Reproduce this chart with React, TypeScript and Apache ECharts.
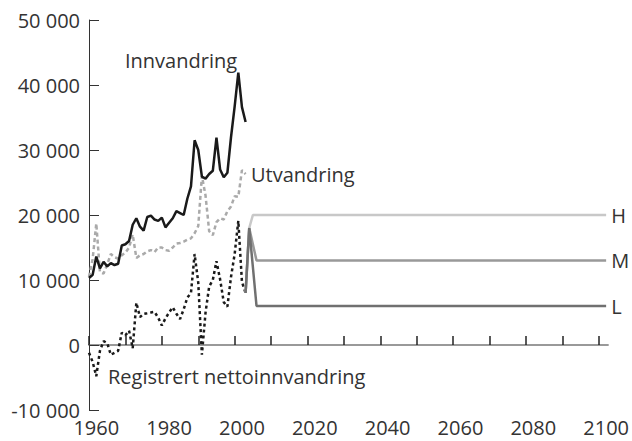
import React, { useEffect, useRef } from "react";
import * as echarts from "echarts";

const years: number[] = [];
for (let y = 1958; y <= 2001; y++) years.push(y);

const innvandring = [
  10300, 10800, 13600, 11800, 12800, 12100, 12600, 12300, 12500, 15300,
  15500, 16000, 18500, 19500, 18200, 17600, 19700, 19900, 19300, 19100,
  19600, 18100, 18800, 19500, 20600, 20300, 20000, 22500, 24400, 31500,
  30000, 25900, 25600, 26300, 26800, 31900, 27000, 25800, 26500, 32000,
  36700, 41900, 36600, 34300,
];
const utvandring = [
  10500, 13200, 18700, 11200, 11000, 12400, 14000, 13500, 13300, 13800,
  14200, 15000, 17000, 13400, 13800, 14000, 14400, 14600, 14300, 15000,
  15000, 14600, 14500, 15000, 15600, 15700, 15900, 16200, 16400, 17200,
  18300, 26000, 23000, 17500, 16900, 18900, 19500, 19300, 20600, 21300,
  22900, 22800, 26900, 26300,
];
const netto = [
  -1200, -2600, -4800, -900, 600, 300, -1500, -1200, -900, 1900,
  1500, 2200, -500, 6500, 4300, 4800, 4900, 5000, 5100, 4200,
  3000, 4100, 5000, 5800, 4800, 4000, 5500, 7300, 8000, 14000,
  9600, -1500, 5000, 9000, 10000, 12900, 10100, 6600, 5900, 10500,
  14000, 19100, 9700, 8000,
];

const projYears = [2001, 2002, 2003, 2004, 2100];
const projH = [8000, 18000, 20000, 20000, 20000];
const projM = [8000, 18000, 15500, 13000, 13000];
const projL = [8000, 18000, 12000, 6000, 6000];

const tickYears = [1958, 1968, 1978, 1988, 1998, 2008, 2018, 2028, 2038, 2048, 2058, 2068, 2078, 2088, 2098];
const labelYears = [1960, 1980, 2000, 2020, 2040, 2060, 2080, 2100];

const FONT = "'Open Sans', 'Noto Sans', sans-serif";
const TXT = "#333";

const pair = (xs: number[], ys: number[]) => xs.map((x, i) => [x, ys[i]]);
const fmt = (v: number) =>
  (v < 0 ? "-" : "") + String(Math.abs(v)).replace(/\B(?=(\d{3})+(?!\d))/g, " ");

export default function App() {
  const ref = useRef<HTMLDivElement>(null);
  useEffect(() => {
    if (!ref.current) return;
    const chart = echarts.init(ref.current, undefined, { renderer: "svg" });
    chart.setOption({
      animation: false,
      textStyle: { fontFamily: FONT },
      grid: { left: 89, right: 23, top: 20, bottom: 31, containLabel: false },
      xAxis: [
        {
          type: "value",
          min: 1958,
          max: 2100.5,
          position: "bottom",
          axisLine: { show: true, onZero: true, lineStyle: { color: "#999", width: 2 } },
          axisTick: { show: true, inside: true, length: 9, customValues: tickYears, lineStyle: { color: "#222", width: 1.5 } },
          axisLabel: { show: false },
          splitLine: { show: false },
        },
        {
          type: "value",
          min: 1958,
          max: 2100.5,
          position: "bottom",
          axisLine: { show: false, onZero: false },
          axisTick: { show: false },
          axisLabel: {
            show: true,
            customValues: labelYears,
            formatter: (v: number) => String(v),
            fontSize: 20,
            color: TXT,
            fontFamily: FONT,
            margin: 7,
          },
          splitLine: { show: false },
        },
      ],
      yAxis: {
        type: "value",
        min: -10000,
        max: 50000,
        interval: 10000,
        axisLine: { show: true, onZero: false, lineStyle: { color: "#333", width: 1 } },
        axisTick: { show: true, inside: true, length: 10, lineStyle: { color: "#333", width: 1 } },
        axisLabel: { formatter: fmt, fontSize: 20, color: TXT, fontFamily: FONT, margin: 9 },
        splitLine: { show: false },
      },
      series: [
        {
          name: "Utvandring",
          type: "line",
          data: pair(years, utvandring),
          showSymbol: false,
          lineStyle: { color: "#aaa", width: 2.5, type: [4, 3] },
        },
        {
          name: "Innvandring",
          type: "line",
          data: pair(years, innvandring),
          showSymbol: false,
          lineStyle: { color: "#1a1a1a", width: 2.5 },
        },
        {
          name: "Registrert nettoinnvandring",
          type: "line",
          data: pair(years, netto),
          showSymbol: false,
          lineStyle: { color: "#1a1a1a", width: 2.5, type: [3, 3] },
        },
        {
          name: "H",
          type: "line",
          data: pair(projYears, projH),
          showSymbol: false,
          lineStyle: { color: "#c8c8c8", width: 2.5 },
          endLabel: { show: true, formatter: "{a}", distance: 5, fontSize: 20, color: TXT, fontFamily: FONT },
        },
        {
          name: "M",
          type: "line",
          data: pair(projYears, projM),
          showSymbol: false,
          lineStyle: { color: "#999", width: 2.5 },
          endLabel: { show: true, formatter: "{a}", distance: 5, fontSize: 20, color: TXT, fontFamily: FONT },
        },
        {
          name: "L",
          type: "line",
          data: pair(projYears, projL),
          showSymbol: false,
          lineStyle: { color: "#707070", width: 2.5 },
          endLabel: { show: true, formatter: "{a}", distance: 5, fontSize: 20, color: TXT, fontFamily: FONT },
        },
      ],
      graphic: [
        { type: "text", left: 125, top: 50, style: { text: "Innvandring", fontSize: 20, fill: TXT, fontFamily: FONT } },
        { type: "text", left: 251, top: 164, style: { text: "Utvandring", fontSize: 20, fill: TXT, fontFamily: FONT } },
        { type: "text", left: 108, top: 366, style: { text: "Registrert nettoinnvandring", fontSize: 20, fill: TXT, fontFamily: FONT } },
      ],
    });
    return () => chart.dispose();
  }, []);
  return <div ref={ref} style={{ width: 632, height: 441, position: "absolute", left: 0, top: 0 }} />;
}
